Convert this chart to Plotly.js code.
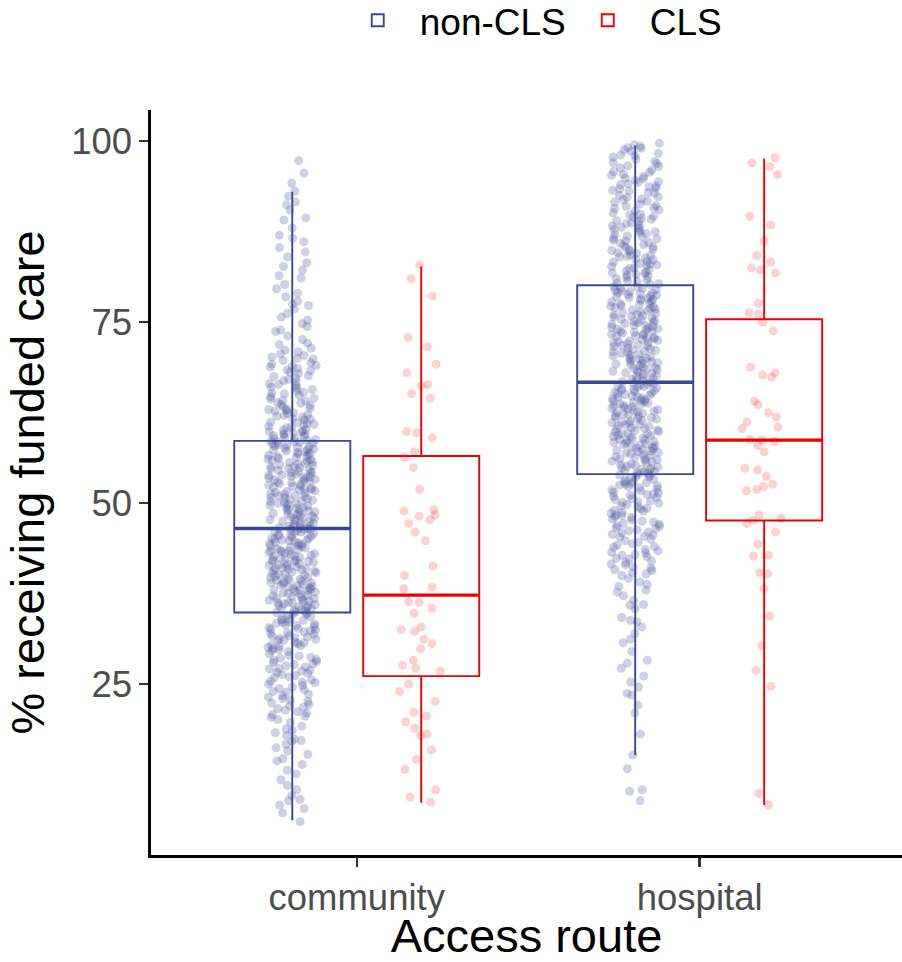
<!DOCTYPE html>
<html><head><meta charset="utf-8">
<script src="https://cdn.plot.ly/plotly-3.0.1.min.js"></script>
<style>html,body{margin:0;padding:0;background:#fff}#chart{width:902px;height:962px}</style>
</head><body><div id="chart"></div>
<script>
// categories
const routes = ['community', 'hospital'];
const groupNames = ['non-CLS', 'CLS'];

// box statistics (community, hospital)
const nonCLS_lower = [6.2, 15.2];
const nonCLS_q1 = [34.9, 54.0];
const nonCLS_median = [46.5, 66.7];
const nonCLS_q3 = [58.6, 80.1];
const nonCLS_upper = [93.0, 99.4];

const CLS_lower = [8.6, 8.3];
const CLS_q1 = [26.1, 47.6];
const CLS_median = [37.3, 58.7];
const CLS_q3 = [56.5, 75.4];
const CLS_upper = [82.7, 97.6];

const nonCLS_community = [
97.3,95.6,94.2,93.1,92.4,91.6,91.2,90.5,89.4,89.1,88.0,87.0,86.6,86.1,85.3,84.7,84.0,83.2,82.7,82.2,81.4,81.1,80.2,
79.6,79.0,78.5,77.9,77.5,77.3,76.8,76.2,75.7,75.3,74.8,74.4,73.9,73.7,73.1,72.6,72.1,71.9,71.4,71.1,70.9,70.6,70.4,70.2,70.0,
69.7,69.4,69.2,68.9,68.8,68.3,68.1,67.9,67.6,67.5,67.1,66.9,66.7,66.4,66.2,66.0,65.9,65.7,65.3,65.2,69.9,68.6,67.3,66.5,65.5,69.0,68.4,65.1,
64.9,64.7,64.4,64.1,63.8,63.6,63.3,63.0,62.8,62.5,62.4,62.1,61.9,61.6,61.2,61.0,60.8,60.5,60.2,60.1,64.5,63.9,63.1,62.7,62.0,61.5,60.9,60.4,64.2,63.5,62.9,62.2,61.7,61.1,60.6,60.0,
59.9,59.7,59.5,59.4,59.2,59.0,58.9,58.7,59.8,59.3,59.1,58.8,59.6,58.6,
58.5,58.3,58.2,58.0,57.8,57.6,57.5,57.3,57.1,56.9,56.8,56.6,56.3,56.1,55.9,55.7,55.4,55.2,55.0,58.4,57.9,57.4,56.7,56.2,55.8,55.3,58.1,57.7,57.0,56.5,55.6,55.1,57.2,56.4,55.5,58.4,56.0,
54.9,54.7,54.5,54.3,54.0,53.8,53.6,53.4,53.1,52.9,52.7,52.5,52.2,52.0,51.8,51.6,51.3,51.1,50.9,50.7,50.4,50.2,50.0,54.8,54.2,53.7,53.2,52.8,52.3,51.9,51.4,50.8,50.3,54.6,54.1,53.5,53.0,52.6,52.1,51.5,51.0,50.5,54.4,53.9,53.3,52.4,51.7,51.2,50.6,50.1,53.6,
49.9,49.7,49.4,49.2,49.0,48.8,48.5,48.3,48.1,47.9,47.6,47.4,47.2,47.0,46.8,46.6,49.8,49.3,48.9,48.4,48.0,47.7,47.3,46.9,46.5,49.5,49.1,48.6,48.2,47.8,47.1,46.7,49.6,48.7,47.5,46.6,
46.4,46.2,46.0,45.8,45.6,45.4,45.2,45.0,46.3,45.9,45.5,45.1,46.1,45.7,45.3,46.4,
44.9,44.7,44.5,44.3,44.1,43.9,43.6,43.4,43.2,43.0,42.8,42.5,42.3,42.1,41.9,41.7,41.4,41.2,41.0,40.8,40.6,40.3,40.1,44.8,44.4,44.0,43.5,43.1,42.7,42.2,41.8,41.3,40.9,40.4,40.0,44.6,44.2,43.7,43.3,42.9,42.4,42.0,41.5,41.1,40.7,40.2,44.9,43.8,42.6,41.6,40.5,43.4,42.0,41.0,
39.9,39.7,39.5,39.2,39.0,38.8,38.6,38.3,38.1,37.9,37.7,37.4,37.2,37.0,36.8,36.5,36.3,36.1,35.9,35.7,35.4,35.2,35.0,39.8,39.3,38.9,38.4,38.0,37.5,37.1,36.6,36.2,35.8,35.3,39.6,39.1,38.7,38.2,37.8,37.3,36.9,36.4,36.0,35.5,35.1,39.4,38.5,37.6,36.7,35.6,38.0,36.2,39.0,
34.9,34.8,34.5,34.3,34.0,33.8,33.5,33.2,33.0,32.7,32.4,32.2,31.9,31.6,31.4,31.1,30.8,30.6,30.3,30.1,34.6,34.1,33.6,33.1,32.6,32.0,31.5,31.0,30.4,34.7,33.9,33.3,32.8,32.1,31.7,31.2,30.7,30.2,33.4,32.5,31.3,
29.8,29.5,29.2,28.9,28.6,28.3,28.0,27.7,27.4,27.1,26.8,26.5,26.2,25.9,25.6,25.3,25.0,29.6,29.0,28.4,27.8,27.2,26.6,26.0,25.4,29.9,28.7,27.5,26.3,25.2,28.1,26.9,
24.8,24.4,24.0,23.6,23.2,22.8,22.4,22.0,21.6,21.2,20.8,20.4,20.1,24.6,23.9,23.0,22.2,21.4,20.6,24.2,23.4,22.6,21.8,21.0,
19.7,19.2,18.8,18.3,17.9,17.4,17.1,16.7,16.2,15.8,15.3,18.6,17.2,
14.7,14.4,13.9,13.1,12.6,11.8,11.0,10.4,9.6,9.1,8.9,8.3,7.8,7.2,6.0
];

const nonCLS_hospital = [
99.7,99.5,99.3,99.1,98.8,98.6,98.3,98.1,97.8,97.5,97.2,96.9,96.6,96.3,96.0,95.7,95.4,95.1,99.0,98.0,97.0,96.5,95.8,95.3,
94.9,94.6,94.3,94.0,93.7,93.4,93.1,92.8,92.5,92.2,91.9,91.6,91.3,91.0,90.7,90.4,90.1,94.8,94.1,93.5,92.9,92.3,91.7,91.1,90.5,94.4,93.2,92.0,90.8,93.8,
89.9,89.6,89.3,89.0,88.7,88.4,88.1,87.8,87.5,87.2,86.9,86.6,86.3,86.0,85.7,85.4,85.1,89.8,89.2,88.6,88.0,87.4,86.8,86.2,85.6,85.0,89.5,88.3,87.1,85.9,88.9,87.7,86.5,85.3,
84.9,84.6,84.3,84.0,83.7,83.4,83.1,82.8,82.5,82.2,81.9,81.6,81.3,81.0,80.7,80.4,80.2,84.8,84.2,83.6,83.0,82.4,81.8,81.2,80.6,84.5,83.3,82.1,80.9,84.1,83.9,82.7,81.5,80.3,82.9,81.7,
79.9,79.7,79.4,79.2,79.0,78.7,78.5,78.2,78.0,77.8,77.5,77.3,77.0,76.8,76.6,76.3,76.1,75.8,75.6,75.3,75.1,79.8,79.3,78.8,78.3,77.9,77.4,76.9,76.4,75.9,75.4,75.0,79.6,79.1,78.6,78.1,77.6,77.1,76.7,76.2,75.7,75.2,79.5,78.4,77.2,76.0,78.9,
74.9,74.7,74.4,74.2,74.0,73.7,73.5,73.2,73.0,72.8,72.5,72.3,72.0,71.8,71.6,71.3,71.1,70.8,70.6,70.3,70.1,74.8,74.3,73.8,73.3,72.9,72.4,71.9,71.4,70.9,70.4,70.0,74.6,74.1,73.6,73.1,72.6,72.1,71.7,71.2,70.7,70.2,74.5,73.4,72.2,71.0,73.9,72.7,
69.9,69.7,69.4,69.2,69.0,68.7,68.5,68.2,68.0,67.8,67.5,67.3,67.0,66.8,69.8,69.3,68.8,68.3,67.9,67.4,66.9,69.6,69.1,68.6,68.1,67.6,67.1,66.7,69.5,68.4,
66.6,66.4,66.2,66.0,65.8,65.6,65.4,65.2,65.0,66.5,66.1,65.7,65.3,66.3,65.9,65.5,65.1,
64.9,64.7,64.4,64.2,64.0,63.7,63.5,63.2,63.0,62.8,62.5,62.3,62.0,61.8,61.6,61.3,61.1,60.8,60.6,60.3,60.1,64.8,64.3,63.8,63.3,62.9,62.4,61.9,61.4,60.9,60.4,60.0,64.6,64.1,63.6,63.1,62.6,62.1,61.7,61.2,60.7,60.2,64.5,63.4,62.2,61.0,63.9,62.7,
59.9,59.7,59.4,59.2,59.0,58.7,58.5,58.2,58.0,57.8,57.5,57.3,57.0,56.8,56.6,56.3,56.1,55.8,55.6,55.3,55.1,59.8,59.3,58.8,58.3,57.9,57.4,56.9,56.4,55.9,55.4,55.0,59.6,59.1,58.6,58.1,57.6,57.1,56.7,56.2,55.7,55.2,59.5,58.4,57.2,56.0,58.9,57.7,
54.9,54.8,54.7,54.6,54.5,54.4,54.3,54.2,54.1,54.0,
53.9,53.6,53.3,53.0,52.7,52.4,52.1,51.8,51.5,51.2,50.9,50.6,50.3,50.0,53.8,53.2,52.6,52.0,51.4,50.8,50.2,53.5,52.9,52.3,51.7,51.1,50.5,53.7,52.5,51.3,50.1,52.8,
49.8,49.5,49.2,48.9,48.6,48.3,48.0,47.7,47.4,47.1,46.8,46.5,46.2,45.9,45.6,45.3,45.0,49.6,49.0,48.4,47.8,47.2,46.6,46.0,45.4,49.3,48.1,46.9,45.7,48.7,47.5,46.3,
44.8,44.4,44.0,43.6,43.2,42.8,42.4,42.0,41.6,41.2,40.8,40.4,40.0,44.6,43.9,43.1,42.3,41.5,40.7,44.2,43.4,42.6,41.8,41.0,40.2,42.9,
39.6,39.1,38.5,38.0,37.7,37.2,36.6,36.0,35.9,35.4,38.8,
34.2,33.8,33.6,32.9,32.0,31.2,30.7,29.5,28.3,27.9,27.2,26.1,25.3,24.6,23.7,23.5,22.1,21.0,18.1,15.2,13.3,10.4,10.2,8.9
];

const CLS_community = [
82.9,81.0,78.6,72.9,71.6,69.2,68.0,66.4,66.2,65.1,64.5,59.9,59.7,59.0,57.1,56.3,54.9,51.9,49.1,48.9,48.4,48.2,47.7,47.2,
46.0,44.8,41.3,40.0,38.4,38.2,36.4,36.3,35.5,34.8,32.9,32.5,32.3,31.2,30.6,29.9,28.3,27.6,27.2,26.8,25.0,24.0,22.6,21.1,
20.6,19.8,18.9,18.1,17.9,15.9,14.6,13.2,10.4,9.4,8.7
];

const CLS_hospital = [
97.7,97.0,96.5,95.4,89.6,88.4,86.2,84.2,83.3,82.5,82.2,81.8,77.6,76.3,76.1,75.0,73.8,68.8,68.0,67.7,67.4,64.1,63.6,62.5,
61.9,61.2,60.5,60.3,58.8,58.7,58.5,58.0,57.1,54.8,54.6,53.7,52.6,52.3,51.9,51.7,48.4,47.9,47.6,47.2,46.0,44.3,42.8,42.7,
40.4,40.2,38.2,34.4,30.3,26.9,24.7,9.9,8.3
];

// tick labels
const yTicks = [25, 50, 75, 100];

const colors = {nc: '#3B4992', cls: '#EE0000'};
const ptColors = {nc: 'rgba(59,73,146,0.25)', cls: 'rgba(238,0,0,0.18)'};

function pointsTrace(vals, route, key) {
  return {
    type: 'box', y: vals, x0: route, name: key + route,
    boxpoints: 'all', jitter: 0.42, pointpos: 0,
    line: {width: 0, color: 'rgba(0,0,0,0)'}, fillcolor: 'rgba(0,0,0,0)',
    marker: {color: ptColors[key], size: 9, line: {width: 0}},
    offsetgroup: key, alignmentgroup: 'g', showlegend: false, hoverinfo: 'skip'
  };
}
function statsTrace(name, key, lo, q1, med, q3, hi) {
  return {
    type: 'box', name: name, x: routes,
    lowerfence: lo, q1: q1, median: med, q3: q3, upperfence: hi,
    boxpoints: false, whiskerwidth: 0,
    line: {color: colors[key], width: 1.9}, fillcolor: 'rgba(0,0,0,0)',
    offsetgroup: key, alignmentgroup: 'g', showlegend: true
  };
}
function medianTrace(key, med) {
  return {
    type: 'box', name: key + 'median', x: routes,
    lowerfence: med, q1: med, median: med, q3: med, upperfence: med,
    boxpoints: false, whiskerwidth: 0,
    line: {color: colors[key], width: 3.4}, fillcolor: 'rgba(0,0,0,0)',
    offsetgroup: key, alignmentgroup: 'g', showlegend: false, hoverinfo: 'skip'
  };
}

const data = [
  pointsTrace(nonCLS_community, routes[0], 'nc'),
  pointsTrace(nonCLS_hospital, routes[1], 'nc'),
  pointsTrace(CLS_community, routes[0], 'cls'),
  pointsTrace(CLS_hospital, routes[1], 'cls'),
  statsTrace(groupNames[0], 'nc', nonCLS_lower, nonCLS_q1, nonCLS_median, nonCLS_q3, nonCLS_upper),
  statsTrace(groupNames[1], 'cls', CLS_lower, CLS_q1, CLS_median, CLS_q3, CLS_upper),
  medianTrace('nc', nonCLS_median),
  medianTrace('cls', CLS_median)
];

const layout = {
  width: 902, height: 962,
  margin: {l: 151, r: 0, t: 110, b: 107, autoexpand: false},
  paper_bgcolor: '#ffffff', plot_bgcolor: '#ffffff',
  font: {family: '"Liberation Sans", Arial, Helvetica, sans-serif', color: '#000'},
  boxmode: 'group', boxgap: 0.248, boxgroupgap: 0.1,
  showlegend: true,
  legend: {orientation: 'h', x: 0.246, xanchor: 'left', y: 1.1615, yanchor: 'top',
           itemwidth: 74, entrywidth: 141,
           font: {size: 37, color: '#000'}, traceorder: 'normal', bgcolor: 'rgba(0,0,0,0)'},
  xaxis: {
    type: 'category', categoryorder: 'array', categoryarray: routes,
    range: [-0.6, 1.59], showgrid: false, zeroline: false,
    showline: true, linecolor: '#000', linewidth: 2.6,
    ticks: 'outside', ticklen: 9, tickwidth: 2.4, tickcolor: '#333',
    tickfont: {size: 36.5, color: '#4D4D4D'},
    title: {text: 'Access route', font: {size: 47, color: '#000'}, standoff: 10}
  },
  yaxis: {
    range: [1.4, 104.3], tickvals: yTicks, ticktext: yTicks.map(String),
    showgrid: false, zeroline: false,
    showline: true, linecolor: '#000', linewidth: 2.6,
    ticks: 'outside', ticklen: 9, tickwidth: 2.4, tickcolor: '#333',
    tickfont: {size: 36.5, color: '#4D4D4D'},
    title: {text: '% receiving funded care', font: {size: 47, color: '#000'}, standoff: 12}
  }
};

Plotly.newPlot('chart', data, layout, {staticPlot: true, displayModeBar: false});
</script>
</body></html>
